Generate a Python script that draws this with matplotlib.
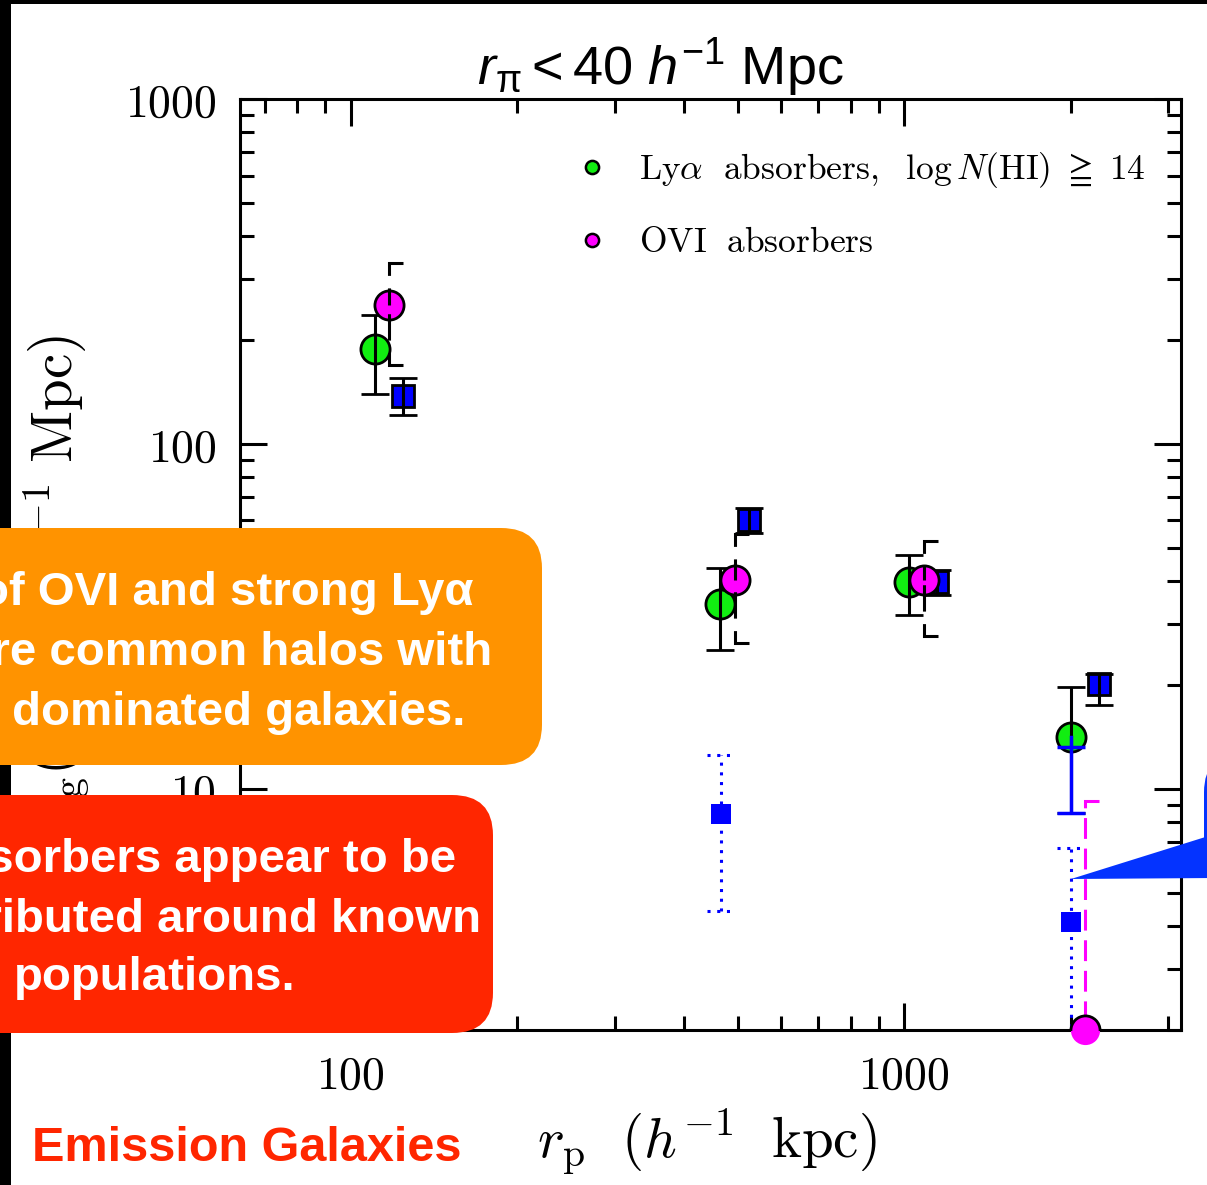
import numpy as np
import matplotlib
matplotlib.use("Agg")
import matplotlib.pyplot as plt
from matplotlib.patches import FancyBboxPatch, Polygon, Rectangle
from matplotlib.lines import Line2D

W, H = 1207, 1185

# Lya absorbers, log N(HI) >= 14
lya_rp = [110.5, 465.6, 1021, 2004]
lya_w = [189, 34.4, 39.7, 14.1]
lya_hi = [236, 43.6, 47.5, 19.8]
lya_lo = [140, 25.2, 32.0, 8.5]
lya_split = 13.2  # outermost bin: lower part of the bar drawn in blue

# OVI absorbers (last bin sits at the lower edge)
ovi_rp = [117.2, 495.6, 1084, 2125]
ovi_w = [252, 40.3, 40.2, 2.0]
ovi_hi = [334, 54.9, 52.2, 9.2]
ovi_lo = [169, 26.4, 27.8, 1.0]

# galaxy auto-correlation
gal_rp = [124.2, 523.7, 1148, 2246]
gal_w = [138, 60.3, 39.9, 20.1]
gal_hi = [155, 65.3, 43.2, 21.5]
gal_lo = [121, 55.3, 36.6, 17.5]

# weak absorbers
weak_rp = [466.7, 2004]
weak_w = [8.48, 4.12]
weak_hi = [12.55, 6.73]
weak_lo = [4.42, 1.0]

x_ticks = [100, 1000]
y_ticks = [10, 100, 1000]
x_lim = (10 ** 1.8, 10 ** 3.5)
y_lim = (2, 1000)

orange_lines = ["of OVI and strong Lyα", "are common halos with", "dominated galaxies."]
red_lines = ["absorbers appear to be", "distributed around known", "populations."]

GREEN = "#11ee11"
MAGENTA = "#ff00ff"
BLUE = "#0000ff"

plt.rcParams["mathtext.fontset"] = "cm"
plt.rcParams["mathtext.rm"] = "Liberation Sans"
plt.rcParams["mathtext.it"] = "Liberation Sans:italic"
plt.rcParams["mathtext.bf"] = "Liberation Sans:bold"
plt.rcParams["lines.scale_dashes"] = False


def fx(px):
    return px / W


def fy(py):
    return 1 - py / H


fig = plt.figure(figsize=(W / 100, H / 100), dpi=100)
ax = fig.add_axes([fx(240), fy(1030), (1181 - 240) / W, (1030 - 99) / H])
ax.set_xscale("log")
ax.set_yscale("log")
ax.set_xlim(*x_lim)
ax.set_ylim(*y_lim)

# half width of the error-bar caps as a factor in log x
decade_px = (1181 - 240) / np.log10(x_lim[1] / x_lim[0])
CAP = 10 ** (14 / decade_px)
LW = 2.2

# weak absorbers: small blue squares with dotted bars
ax.plot(weak_rp, weak_w, "s", color=BLUE, ms=15, mew=0, zorder=2)
for x, lo, hi in zip(weak_rp, weak_lo, weak_hi):
    kw = dict(color=BLUE, lw=LW, dashes=(2.2, 4.8), dash_capstyle="butt", zorder=2.2)
    ax.plot([x, x], [lo, hi], **kw)
    ax.plot([x / CAP, x * CAP], [hi, hi], **kw)
    ax.plot([x / CAP, x * CAP], [lo, lo], **kw)

# galaxies
ax.errorbar(gal_rp, gal_w,
            yerr=[np.subtract(gal_w, gal_lo), np.subtract(gal_hi, gal_w)],
            fmt="s", ms=16, mfc=BLUE, mec="k", mew=2, ecolor="k",
            elinewidth=LW, capsize=10, capthick=LW, barsabove=True, zorder=3)

# Lya absorbers
ax.errorbar(lya_rp, lya_w,
            yerr=[np.subtract(lya_w, lya_lo), np.subtract(lya_hi, lya_w)],
            fmt="o", ms=21, mfc=GREEN, mec="k", mew=2, ecolor="k",
            elinewidth=LW, capsize=10, capthick=LW, barsabove=True, zorder=4)
ax.errorbar(lya_rp[3:], lya_lo[3:], yerr=[[0], [lya_split - lya_lo[3]]],
            fmt="none", ecolor=BLUE, elinewidth=LW + 0.3, capsize=10,
            capthick=LW + 0.3, zorder=4.3)
ax.plot([lya_rp[3], lya_rp[3]], [lya_split, lya_w[3]], color=BLUE, lw=LW + 0.3,
        zorder=4.3)

# OVI absorbers
ax.plot(ovi_rp[:3], ovi_w[:3], "o", ms=21, mfc=MAGENTA, mec="k", mew=2, zorder=5)
for x, w, lo, hi in zip(ovi_rp[:3], ovi_w[:3], ovi_lo[:3], ovi_hi[:3]):
    for end in (hi, lo):
        ax.plot([x * CAP, x, x], [end, end, w], color="k", lw=LW,
                dashes=(19, 9), dash_capstyle="butt", dash_joinstyle="miter",
                zorder=5.5)
ax.plot([ovi_rp[3] * CAP, ovi_rp[3], ovi_rp[3]], [ovi_hi[3], ovi_hi[3], ovi_lo[3]],
        color=MAGENTA, lw=LW, dashes=(15, 7), dash_capstyle="butt",
        dash_joinstyle="miter", zorder=5.5)
ax.plot(ovi_rp[3:], ovi_w[3:], "o", ms=21, mfc=MAGENTA, mew=0, zorder=5.6,
        clip_on=False)
ax.plot(ovi_rp[3:], ovi_w[3:], "o", ms=21, mfc=MAGENTA, mec="k", mew=2,
        zorder=5.7)

# axes styling
ax.set_xticks(x_ticks, labels=[f"${v}$" for v in x_ticks])
ax.set_yticks(y_ticks, labels=[f"${v}$" for v in y_ticks])
ax.tick_params(which="both", direction="in", top=True, right=True, width=LW)
ax.tick_params(which="major", length=19.5, labelsize=33, pad=17)
ax.tick_params(which="minor", length=10, labelleft=False, labelbottom=False)
for sp in ax.spines.values():
    sp.set_linewidth(LW)

handles = [
    Line2D([], [], ls="none", marker="o", ms=9.5, mfc=GREEN, mec="k", mew=1.8),
    Line2D([], [], ls="none", marker="o", ms=9.5, mfc=MAGENTA, mec="k", mew=1.8),
]
labels = [r"$\mathrm{Ly}\alpha\ \ \mathrm{absorbers,}\ \ \log N(\mathrm{HI})\ \geqq\ 14$",
          r"$\mathrm{OVI}\ \ \mathrm{absorbers}$"]
ax.legend(handles, labels, loc="upper left", bbox_to_anchor=(fx(579), fy(150)),
          bbox_transform=fig.transFigure, frameon=False, fontsize=25.5,
          handlelength=0.75, handletextpad=0.95, labelspacing=1.0,
          borderpad=0, borderaxespad=0)

fig.text(fx(660), fy(85), r"$r_{\mathrm{\pi}} < 40\ h^{-1}\ \mathrm{Mpc}$",
         ha="center", va="baseline", fontsize=39, math_fontfamily="custom")
fig.text(fx(707), fy(1158), r"$r_{\rm p}\ \ (h^{-1}\ \ {\rm kpc})$",
         ha="center", va="baseline", fontsize=41)
fig.text(fx(72), fy(335),
         r"$\omega_{\rm ag}(r_{\rm p})\quad\ \ (h^{-1}\ {\rm Mpc})$",
         rotation=90, rotation_mode="anchor", ha="right", va="baseline",
         fontsize=41)

# slide frame
fig.add_artist(Rectangle((0, 0), fx(11), 1, transform=fig.transFigure,
                         fc="black", ec="none", zorder=1))
fig.add_artist(Rectangle((0, fy(4)), 1, fy(0) - fy(4), transform=fig.transFigure,
                         fc="black", ec="none", zorder=1))

# callouts
fig.add_artist(FancyBboxPatch((fx(-200), fy(765)), fx(742), fy(528) - fy(765),
                              boxstyle="round,pad=0,rounding_size=0.034",
                              transform=fig.transFigure, fc="#FF9300", ec="none",
                              zorder=10))
for txt, xe, yb in zip(orange_lines, [473, 492, 465], [605, 665, 725]):
    fig.text(fx(xe), fy(yb), txt, ha="right", va="baseline", color="white",
             fontsize=34.1, fontweight="bold", family="Liberation Sans", zorder=11)

fig.add_artist(FancyBboxPatch((fx(-200), fy(1033)), fx(693), fy(795) - fy(1033),
                              boxstyle="round,pad=0,rounding_size=0.034",
                              transform=fig.transFigure, fc="#FF2600", ec="none",
                              zorder=10))
for txt, xe, yb in zip(red_lines, [456, 481, 296], [872, 932, 990]):
    fig.text(fx(xe), fy(yb), txt, ha="right", va="baseline", color="white",
             fontsize=34.1, fontweight="bold", family="Liberation Sans", zorder=11)

fig.add_artist(FancyBboxPatch((fx(1204), fy(880)), 0.2, fy(752) - fy(880),
                              boxstyle="round,pad=0,rounding_size=0.034",
                              transform=fig.transFigure, fc="#0433FF", ec="none",
                              zorder=10))
fig.add_artist(Polygon([(fx(1071), fy(879)), (fx(1215), fy(834)), (fx(1215), fy(878))],
                       closed=True, transform=fig.transFigure, fc="#0433FF",
                       ec="none", zorder=10))

fig.text(fx(32), fy(1161), "Emission Galaxies", ha="left", va="baseline",
         color="#FF2600", fontsize=35, fontweight="bold", family="Liberation Sans")

fig.savefig("out.png", dpi=100)
